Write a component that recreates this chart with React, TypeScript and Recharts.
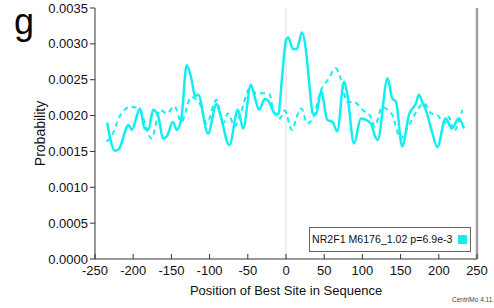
import { LineChart, Line, XAxis, YAxis, ReferenceLine, Label } from "recharts";

const xTicks = [-250, -200, -150, -100, -50, 0, 50, 100, 150, 200, 250];
const yTicks = [0, 0.0005, 0.001, 0.0015, 0.002, 0.0025, 0.003, 0.0035];

// solid curve: NR2F1 M6176_1.02 site probability
const solidPos = [
  -234, -224, -219, -206, -202, -191, -185, -180, -174, -167, -161, -156, -148, -143, -137, -130,
  -124, -119, -115, -102, -91, -87, -74, -63, -56, -46, -41, -35, -28, -22, -15, -10, -5, 0, 3,
  9, 14, 21, 26, 30, 35, 39, 46, 54, 61, 67, 76, 80, 89, 98, 111, 117, 120, 133, 139, 144, 152,
  161, 170, 174, 179, 183, 191, 198, 209, 217, 226, 233,
];
const solidProb = [
  0.0019, 0.00151, 0.00153, 0.00187, 0.0018, 0.0021, 0.00182, 0.0018, 0.00208, 0.00198, 0.00168,
  0.00171, 0.00191, 0.0018, 0.00196, 0.0027, 0.00252, 0.00227, 0.00229, 0.00175, 0.00216, 0.00205,
  0.00159, 0.00208, 0.00182, 0.00243, 0.00226, 0.00208, 0.00223, 0.00219, 0.00203, 0.00202, 0.00255,
  0.00305, 0.00309, 0.00293, 0.00293, 0.00316, 0.00292, 0.0025, 0.00203, 0.00201, 0.00234, 0.00194,
  0.00191, 0.00178, 0.00247, 0.00231, 0.00161, 0.00196, 0.00189, 0.0017, 0.00166, 0.00252, 0.00224,
  0.00219, 0.00157, 0.00201, 0.00217, 0.00229, 0.00217, 0.00208, 0.00178, 0.00156, 0.00196, 0.00182,
  0.00196, 0.00182,
];

// dashed curve: background / control
const dashPos = [
  -235, -230, -217, -204, -193, -176, -165, -156, -146, -137, -124, -117, -113, -104, -91, -82,
  -76, -67, -61, -47, -39, -28, -21, -17, -8, -2, 8, 14, 20, 28, 35, 46, 55, 65, 72, 80, 89, 100,
  111, 116, 126, 133, 139, 150, 161, 181, 190, 198, 207, 213, 220, 226, 231,
];
const dashProb = [
  0.00164, 0.00168, 0.002, 0.00212, 0.0021, 0.00168, 0.00208, 0.00203, 0.00213, 0.00191, 0.00226,
  0.00222, 0.00217, 0.00189, 0.00222, 0.00189, 0.00203, 0.00185, 0.00198, 0.00238, 0.00231, 0.00231,
  0.00229, 0.00208, 0.00196, 0.00207, 0.0018, 0.00198, 0.0021, 0.00189, 0.00196, 0.00236, 0.0025,
  0.00266, 0.0025, 0.00219, 0.00219, 0.00208, 0.00198, 0.00185, 0.00212, 0.00208, 0.00201, 0.00168,
  0.00187, 0.00217, 0.00203, 0.00201, 0.00189, 0.00198, 0.00178, 0.00191, 0.00208,
];

const solidData = solidPos.map((pos, i) => ({ pos, prob: solidProb[i] }));
const dashData = dashPos.map((pos, i) => ({ pos, prob: dashProb[i] }));

const font = "'Liberation Sans', Arial, sans-serif";
const cyan = "#10eef2";

export default function App() {
  return (
    <div style={{ position: "absolute", left: 0, top: 0, width: 494, height: 308, fontFamily: font, background: "#fff" }}>
      <LineChart width={494} height={308} margin={{ top: 8, right: 17, bottom: 0, left: 0 }}>
        <XAxis
          dataKey="pos"
          type="number"
          domain={[-250, 250]}
          ticks={xTicks}
          allowDuplicatedCategory={false}
          height={49}
          stroke="#333"
          tickSize={-5}
          tickMargin={12}
          tick={{ fill: "#111", fontSize: 13, fontFamily: font }}
        >
          <Label value="Position of Best Site in Sequence" position="center" dy={7} style={{ fill: "#111", fontSize: 13, fontFamily: font }} />
        </XAxis>
        <XAxis
          xAxisId="top"
          orientation="top"
          type="number"
          domain={[-250, 250]}
          ticks={xTicks}
          height={0}
          stroke="#333"
          tickSize={-5}
          tickFormatter={() => ""}
        />
        <YAxis
          type="number"
          domain={[0, 0.0035]}
          ticks={yTicks}
          width={95}
          stroke="#333"
          tickSize={5}
          tickMargin={2}
          tickFormatter={(v: number) => v.toFixed(4)}
          tick={{ fill: "#111", fontSize: 13, fontFamily: font }}
        >
          <Label value="Probability" angle={-90} position="center" dx={-7} style={{ fill: "#111", fontSize: 14, fontFamily: font }} />
        </YAxis>
        <ReferenceLine x={0} stroke="#dcdcdc" strokeWidth={1} />
        <ReferenceLine x={250} stroke="#a0a0a0" strokeWidth={2.5} />
        <Line
          data={dashData}
          dataKey="prob"
          type="monotone"
          stroke={cyan}
          strokeWidth={2}
          strokeDasharray="5 4"
          dot={false}
          isAnimationActive={false}
        />
        <Line
          data={solidData}
          dataKey="prob"
          type="monotone"
          stroke={cyan}
          strokeWidth={2.5}
          dot={false}
          isAnimationActive={false}
        />
      </LineChart>
      <div style={{ position: "absolute", left: 14, top: 4, fontSize: 36, lineHeight: 1, color: "#000" }}>g</div>
      <div
        style={{
          position: "absolute",
          left: 309,
          top: 227,
          width: 162,
          height: 25,
          border: "1px solid #666",
          background: "#fff",
          fontSize: 10.6,
          lineHeight: "23px",
          color: "#111",
          boxSizing: "border-box",
          paddingLeft: 2,
          whiteSpace: "nowrap",
        }}
      >
        NR2F1 M6176_1.02 p=6.9e-3
        <span style={{ position: "absolute", left: 148, top: 7, width: 9, height: 9, background: cyan }} />
      </div>
      <div style={{ position: "absolute", left: 452, top: 296, fontSize: 6.5, color: "#444", whiteSpace: "nowrap" }}>CentriMo 4.11.</div>
    </div>
  );
}
